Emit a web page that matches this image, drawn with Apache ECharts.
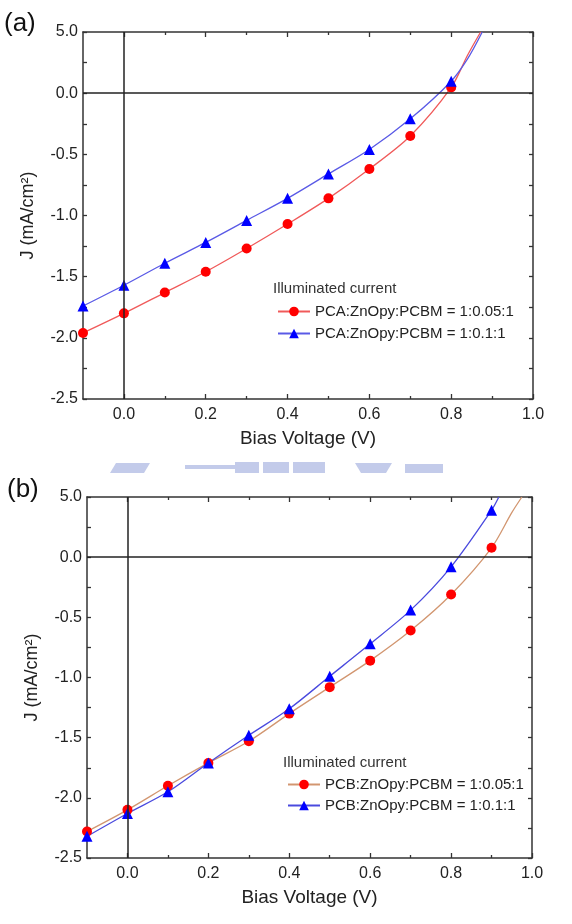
<!DOCTYPE html>
<html>
<head>
<meta charset="utf-8">
<script src="https://cdn.jsdelivr.net/npm/echarts@6/dist/echarts.min.js"></script>
<style>
  html, body { margin: 0; padding: 0; background: #fff; }
  #chart { width: 572px; height: 924px; }
</style>
</head>
<body>
<div id="chart"></div>
<script>
// bias voltage (V) of the marked points
var xA = [-0.1, 0.0, 0.1, 0.2, 0.3, 0.4, 0.5, 0.6, 0.7, 0.8];
var xB = [-0.1, 0.0, 0.1, 0.2, 0.3, 0.4, 0.5, 0.6, 0.7, 0.8, 0.9];

// J (mA/cm2), panel (a)
var redA = [-1.96, -1.80, -1.63, -1.46, -1.27, -1.07, -0.86, -0.62, -0.35, 0.47];
var blueA = [-1.74, -1.57, -1.39, -1.22, -1.04, -0.86, -0.66, -0.46, -0.21, 0.98];
// curve continues past the last marker (no symbol)
var redATailX = [0.84, 0.872];
var redATailJ = [3.1, 5.0];
var blueATailX = [0.84, 0.876];
var blueATailJ = [2.8, 5.0];

// J (mA/cm2), panel (b)
var redB = [-2.28, -2.10, -1.90, -1.71, -1.53, -1.30, -1.08, -0.86, -0.61, -0.31, 0.78];
var blueB = [-2.32, -2.13, -1.95, -1.71, -1.48, -1.26, -0.99, -0.72, -0.44, -0.08, 3.9];
var redBTailX = [0.95, 0.975];
var redBTailJ = [3.7, 5.0];
var blueBTailX = [0.918];
var blueBTailJ = [5.0];

// axis ticks
var xMajor = [0.0, 0.2, 0.4, 0.6, 0.8, 1.0];
var xMinor = [0.1, 0.3, 0.5, 0.7, 0.9];

var namesA = ["PCA:ZnOpy:PCBM = 1:0.05:1", "PCA:ZnOpy:PCBM = 1:0.1:1"];
var namesB = ["PCB:ZnOpy:PCBM = 1:0.05:1", "PCB:ZnOpy:PCBM = 1:0.1:1"];

var FONT = "'Liberation Sans', Arial, sans-serif";

// broken y axis: 0..5 squeezed into one 0.5 step
function disp(j) {
  return j > 0 ? j / 10 : j;
}

function buildData(xs, js, tx, tj) {
  var out = [];
  xs.forEach(function(x, i) {
    out.push([x, disp(js[i])]);
  });
  tx.forEach(function(x, i) {
    out.push({ value: [x, disp(tj[i])], symbol: "none" });
  });
  return out;
}

function yLabel(v) {
  var r = v > 0.001 ? v * 10 : v;
  if (Math.abs(r) < 1e-9) r = 0;
  return r.toFixed(1);
}

var grids = [
  { left: 83, top: 32, width: 450, height: 367 },
  { left: 87, top: 497, width: 445, height: 361 }
];

var xAxes = [];
var yAxes = [];
grids.forEach(function(g, gi) {
  // bottom, with labels and major ticks
  xAxes.push({
    gridIndex: gi, type: "value", position: "bottom", min: -0.1, max: 1.0,
    name: "Bias Voltage (V)", nameLocation: "middle", nameGap: 30,
    nameTextStyle: { fontFamily: FONT, fontSize: 19, color: "#222" },
    axisLine: { onZero: false, lineStyle: { color: "#333", width: 1.5 } },
    axisTick: { inside: true, length: 5, customValues: xMajor, lineStyle: { color: "#333", width: 1.3 } },
    axisLabel: {
      customValues: xMajor, margin: 8, color: "#222", fontFamily: FONT, fontSize: 16,
      formatter: function(v) { return v.toFixed(1); }
    },
    splitLine: { show: false }
  });
  // bottom minor ticks
  xAxes.push({
    gridIndex: gi, type: "value", position: "bottom", min: -0.1, max: 1.0,
    axisLine: { show: false, onZero: false },
    axisTick: { inside: true, length: 3, customValues: xMinor, lineStyle: { color: "#333", width: 1.3 } },
    axisLabel: { show: false },
    splitLine: { show: false }
  });
  // top frame with ticks
  xAxes.push({
    gridIndex: gi, type: "value", position: "top", min: -0.1, max: 1.0,
    axisLine: { onZero: false, lineStyle: { color: "#333", width: 1.5 } },
    axisTick: { inside: true, length: 5, customValues: xMajor, lineStyle: { color: "#333", width: 1.3 } },
    axisLabel: { show: false },
    splitLine: { show: false }
  });
  xAxes.push({
    gridIndex: gi, type: "value", position: "top", min: -0.1, max: 1.0,
    axisLine: { show: false, onZero: false },
    axisTick: { inside: true, length: 3, customValues: xMinor, lineStyle: { color: "#333", width: 1.3 } },
    axisLabel: { show: false },
    splitLine: { show: false }
  });

  yAxes.push({
    gridIndex: gi, type: "value", position: "left", min: -2.5, max: 0.5, interval: 0.5,
    name: "J (mA/cm²)", nameLocation: "middle", nameGap: 46, nameRotate: 90,
    nameTextStyle: { fontFamily: FONT, fontSize: 18, color: "#222" },
    axisLine: { show: true, onZero: false, lineStyle: { color: "#333", width: 1.5 } },
    axisTick: { show: true, inside: true, length: 4, lineStyle: { color: "#333", width: 1.3 } },
    minorTick: { show: true, splitNumber: 2, length: 4, lineStyle: { color: "#333", width: 1.3 } },
    axisLabel: { margin: 5, color: "#222", fontFamily: FONT, fontSize: 16, formatter: yLabel },
    splitLine: { show: false }
  });
  yAxes.push({
    gridIndex: gi, type: "value", position: "right", min: -2.5, max: 0.5, interval: 0.5,
    axisLine: { show: true, onZero: false, lineStyle: { color: "#333", width: 1.5 } },
    axisTick: { show: true, inside: true, length: 4, lineStyle: { color: "#333", width: 1.3 } },
    minorTick: { show: true, splitNumber: 2, length: 4, lineStyle: { color: "#333", width: 1.3 } },
    axisLabel: { show: false },
    splitLine: { show: false }
  });
});

var zeroLines = {
  silent: true, symbol: "none", label: { show: false },
  lineStyle: { color: "#222", width: 1.5, type: "solid" },
  data: [{ xAxis: 0 }, { yAxis: 0 }]
};

function lineSeries(name, gi, data, lineColor, markColor, symbol, size, withZero) {
  var s = {
    name: name, type: "line", xAxisIndex: gi * 4, yAxisIndex: gi * 2,
    data: data, smooth: 0.3, symbol: symbol, symbolSize: size,
    lineStyle: { color: lineColor, width: 1.3 },
    itemStyle: { color: markColor },
    z: 3
  };
  if (withZero) s.markLine = zeroLines;
  return s;
}

var series = [
  lineSeries(namesA[0], 0, buildData(xA, redA, redATailX, redATailJ), "#f05a5a", "#ff0000", "circle", 10, true),
  lineSeries(namesA[1], 0, buildData(xA, blueA, blueATailX, blueATailJ), "#5a5ae6", "#0000ff", "triangle", 11, false),
  lineSeries(namesB[0], 1, buildData(xB, redB, redBTailX, redBTailJ), "#d29670", "#ff0000", "circle", 10, true),
  lineSeries(namesB[1], 1, buildData(xB, blueB, blueBTailX, blueBTailJ), "#4a4ade", "#0000ff", "triangle", 11, false)
];

var legendText = { fontFamily: FONT, fontSize: 15, color: "#222" };
var wm = "#c3cbea";

var option = {
  backgroundColor: "#fff",
  animation: false,
  grid: grids,
  xAxis: xAxes,
  yAxis: yAxes,
  legend: [
    {
      data: namesA, orient: "vertical", left: 272, top: 299,
      itemWidth: 32, itemHeight: 12, itemGap: 7, textStyle: legendText
    },
    {
      data: namesB, orient: "vertical", left: 282, top: 772,
      itemWidth: 32, itemHeight: 12, itemGap: 6, textStyle: legendText
    }
  ],
  graphic: [
    { type: "text", left: 273, top: 281, style: { text: "Illuminated current", font: "15px " + FONT, fill: "#333" } },
    { type: "text", left: 283, top: 755, style: { text: "Illuminated current", font: "15px " + FONT, fill: "#333" } },
    { type: "text", left: 4, top: 11, style: { text: "(a)", font: "26px " + FONT, fill: "#111" } },
    { type: "text", left: 7, top: 477, style: { text: "(b)", font: "26px " + FONT, fill: "#111" } },
    // faint watermark between the panels
    { type: "polygon", shape: { points: [[110, 473], [116, 463], [150, 463], [144, 473]] }, style: { fill: wm }, silent: true },
    { type: "rect", shape: { x: 185, y: 465, width: 50, height: 4 }, style: { fill: wm }, silent: true },
    { type: "rect", shape: { x: 235, y: 462, width: 24, height: 11 }, style: { fill: wm }, silent: true },
    { type: "rect", shape: { x: 263, y: 462, width: 26, height: 11 }, style: { fill: wm }, silent: true },
    { type: "rect", shape: { x: 293, y: 462, width: 32, height: 11 }, style: { fill: wm }, silent: true },
    { type: "polygon", shape: { points: [[355, 463], [392, 463], [386, 473], [361, 473]] }, style: { fill: wm }, silent: true },
    { type: "rect", shape: { x: 405, y: 464, width: 38, height: 9 }, style: { fill: wm }, silent: true }
  ],
  series: series
};

var chart = echarts.init(document.getElementById("chart"), null, { renderer: "canvas" });
chart.setOption(option);
</script>
</body>
</html>
